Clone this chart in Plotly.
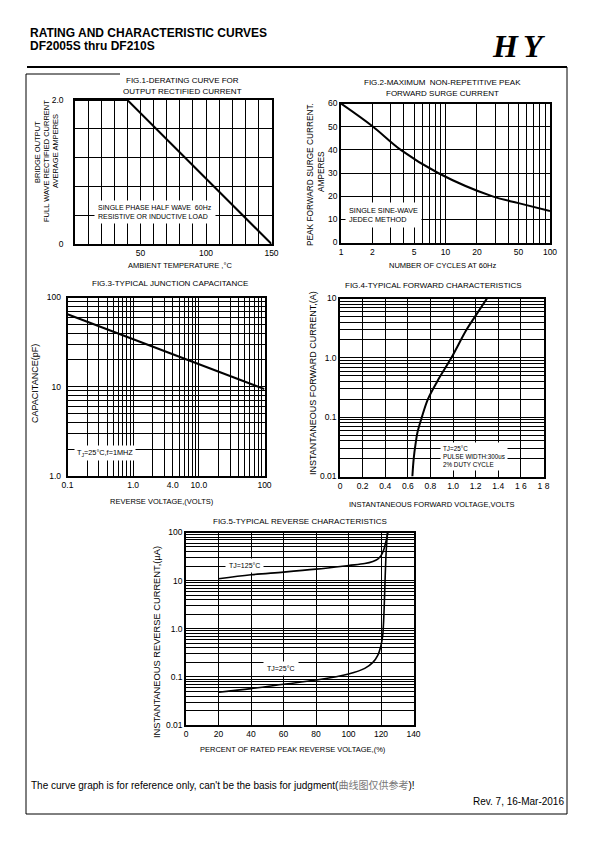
import plotly.graph_objects as go

# The page body has an 8px margin, so the figure is sized to the window minus it
OFF = 8
W, H = 595 - 2 * OFF, 842 - 2 * OFF
FONT = "Liberation Sans, Arial, sans-serif"

# ---------------- data ----------------
# Fig.1 derating curve
f1_temp = [0, 40, 150]
f1_amp = [2.0, 2.0, 0.0]
f1_xticks = list(range(0, 151, 10))
f1_xlabels = ["50" if v == 50 else "100" if v == 100 else "150" if v == 150 else "" for v in f1_xticks]
f1_yticks = [0, 0.4, 0.8, 1.2, 1.6, 2.0]
f1_ylabels = ["0", "", "", "", "", "2.0"]

# Fig.2 surge current
f2_cycles = [1, 2, 3.73, 8.5, 27.8, 50, 100]
f2_amps = [60, 50.2, 40, 30, 20, 17, 13.6]
f2_xticks = [1, 2, 3, 4, 5, 6, 7, 8, 9, 10, 20, 30, 40, 50, 60, 70, 80, 90, 100]
f2_xlabels = ["1", "2", "", "", "5", "", "", "", "", "10", "20", "", "", "50", "", "", "", "", "100"]
f2_yticks = [0, 10, 20, 30, 40, 50, 60]
f2_ylabels = ["0", "10", "20", "30", "40", "50", "60"]

# Fig.3 junction capacitance
f3_volt = [0.1, 1, 10, 100]
f3_cap = [65, 34, 18, 9.4]
f3_xticks = [m * 10 ** e for e in (-1, 0, 1) for m in range(1, 10)] + [100]
f3_xlabel_map = {0.1: "0.1", 1: "1.0", 4: "4.0", 10: "10.0", 100: "100"}
f3_yticks = [m * 10 ** e for e in (0, 1) for m in range(1, 10)] + [100]
f3_ylabel_map = {1: "1.0", 10: "10", 100: "100"}

# Fig.4 forward characteristics
f4_volt = [0.64, 0.652, 0.668, 0.685, 0.724, 0.777, 0.86, 0.985, 1.12, 1.21, 1.30]
f4_amp = [0.01, 0.02, 0.035, 0.055, 0.1, 0.2, 0.4, 1.0, 3.0, 5.5, 10.0]
f4_xticks = [0, 0.2, 0.4, 0.6, 0.8, 1.0, 1.2, 1.4, 1.6, 1.8]
f4_xlabels = ["0", "0.2", "0.4", "0.6", "0.8", "1.0", "1.2", "1.4", "1 6", "1 8"]
f4_yticks = [m * 10 ** e for e in (-2, -1, 0) for m in range(1, 10)] + [10]
f4_ylabel_map = {0.01: "0.01", 0.1: "0.1", 1: "1.0", 10: "10"}

# Fig.5 reverse characteristics
f5_pct_125 = [20, 40, 60, 80, 100, 110, 115, 118, 120, 121.5, 122.5, 123.5, 124.2]
f5_ua_125 = [10.9, 13.2, 15, 17.3, 20.6, 22.6, 25, 28, 33, 42, 55, 75, 100]
f5_pct_25 = [20, 40, 60, 80, 100, 110, 115, 118, 120, 121, 121.5, 122, 122.5, 123, 123.5, 124]
f5_ua_25 = [0.048, 0.057, 0.07, 0.086, 0.115, 0.15, 0.2, 0.28, 0.45, 0.7, 1.2, 3, 10, 30, 60, 100]
f5_xticks = [0, 20, 40, 60, 80, 100, 120, 140]
f5_xlabels = ["0", "20", "40", "60", "80", "100", "120", "140"]
f5_yticks = [m * 10 ** e for e in (-2, -1, 0, 1) for m in range(1, 10)] + [100]
f5_ylabel_map = {0.01: "0.01", 0.1: "0.1", 1: "1.0", 10: "10", 100: "100"}


def lab(vals, mp):
    out = []
    for v in vals:
        t = ""
        for k, s in mp.items():
            if abs(v - k) < 1e-9 * max(1, k):
                t = s
        out.append(t)
    return out


# ---------------- helpers (page pixel -> paper fraction) ----------------
def fx(p):
    return (p - OFF) / W


def fy(p):
    return 1 - (p - OFF) / H


def px_x(a, b):
    return [fx(a), fx(b)]


def px_y(top, bot):
    return [fy(bot), fy(top)]


def ax(domain, anchor, **kw):
    d = dict(domain=domain, anchor=anchor, showline=True, linecolor="black", linewidth=1.6,
             mirror=True, showgrid=True, gridcolor="black", gridwidth=0.9, zeroline=False,
             ticks="", tickfont=dict(family=FONT, size=8.5, color="black"), tickmode="array",
             fixedrange=True, automargin=False)
    d.update(kw)
    return d


fig = go.Figure()
line = dict(color="black", width=2)
fig.add_trace(go.Scatter(x=f1_temp, y=f1_amp, mode="lines", line=line, xaxis="x", yaxis="y"))
fig.add_trace(go.Scatter(x=f2_cycles, y=f2_amps, mode="lines", line=dict(line, shape="spline"), xaxis="x2", yaxis="y2"))
fig.add_trace(go.Scatter(x=f3_volt, y=f3_cap, mode="lines", line=line, xaxis="x3", yaxis="y3"))
fig.add_trace(go.Scatter(x=f4_volt, y=f4_amp, mode="lines", line=dict(line, shape="spline"), xaxis="x4", yaxis="y4"))
fig.add_trace(go.Scatter(x=f5_pct_125, y=f5_ua_125, mode="lines", line=dict(line, shape="spline", width=1.6), xaxis="x5", yaxis="y5"))
fig.add_trace(go.Scatter(x=f5_pct_25, y=f5_ua_25, mode="lines", line=dict(line, shape="spline", width=1.6), xaxis="x5", yaxis="y5"))

layout = dict(
    template="none",
    width=W, height=H, margin=dict(l=0, r=0, t=0, b=0, pad=0, autoexpand=False), showlegend=False,
    paper_bgcolor="white", plot_bgcolor="white",
    xaxis=ax(px_x(75, 271.5), "y", range=[0, 150], tickvals=f1_xticks, ticktext=f1_xlabels),
    yaxis=ax(px_y(100, 244), "x", range=[0, 2.0], tickvals=f1_yticks, ticktext=f1_ylabels, ticklabelstandoff=8),
    xaxis2=ax(px_x(341, 550), "y2", type="log", range=[0, 2], tickvals=f2_xticks, ticktext=f2_xlabels),
    yaxis2=ax(px_y(103.5, 242.5), "x2", range=[0, 60], tickvals=f2_yticks, ticktext=f2_ylabels),
    xaxis3=ax(px_x(67.5, 264.5), "y3", type="log", range=[-1, 2], tickvals=f3_xticks, ticktext=lab(f3_xticks, f3_xlabel_map)),
    yaxis3=ax(px_y(297.5, 476), "x3", type="log", range=[0, 2], tickvals=f3_yticks, ticktext=lab(f3_yticks, f3_ylabel_map), ticklabelstandoff=3),
    xaxis4=ax(px_x(340, 543.5), "y4", range=[0, 1.8], tickvals=f4_xticks, ticktext=f4_xlabels),
    yaxis4=ax(px_y(298.5, 476.5), "x4", type="log", range=[-2, 1], tickvals=f4_yticks, ticktext=lab(f4_yticks, f4_ylabel_map)),
    xaxis5=ax(px_x(186, 413.5), "y5", range=[0, 140], tickvals=f5_xticks, ticktext=f5_xlabels),
    yaxis5=ax(px_y(532.5, 725), "x5", type="log", range=[-2, 2], tickvals=f5_yticks, ticktext=lab(f5_yticks, f5_ylabel_map)),
)
fig.update_layout(**layout)

annots = []


def txt(x, y, s, size=7, angle=0, xanchor="center", bg=None, align="center", bold=False, color="black", family=FONT, pad=0):
    a = dict(x=fx(x), y=fy(y), xref="paper", yref="paper", text=s, showarrow=False,
             xanchor=xanchor, yanchor="middle", textangle=angle, align=align,
             font=dict(family=family, size=size, color=color, weight="bold" if bold else "normal"))
    if bg:
        a.update(bgcolor=bg, borderpad=pad)
    annots.append(a)


# header
txt(28, 33, "RATING AND CHARACTERISTIC CURVES", size=12, xanchor="left", bold=True)
txt(28, 46.5, "DF2005S thru DF210S", size=12, xanchor="left", bold=True)
txt(505, 46, "<b><i>H</i></b>", size=32, family="Liberation Serif, serif")
txt(534, 46, "<b><i>Y</i></b>", size=32, family="Liberation Serif, serif")

# Fig1 texts
txt(182, 80, "FIG.1-DERATING CURVE FOR", size=8)
txt(182, 91, "OUTPUT RECTIFIED CURRENT", size=8)
txt(37, 152, "BRIDGE OUTPUT", size=7.5, angle=-90)
txt(46, 161, "FULL WAVE RECTIFIED CURRENT", size=7.5, angle=-90)
txt(55, 151, "AVERAGE AMPERES", size=7.5, angle=-90)
txt(180, 266, "AMBIENT TEMPERATURE ,°C", size=7.5)
txt(94, 212, "SINGLE PHASE HALF WAVE  60Hz<br>RESISTIVE OR INDUCTIVE LOAD", size=7, bg="white", align="left", xanchor="left", pad=3)

# Fig2 texts
txt(442, 83, "FIG.2-MAXIMUM  NON-REPETITIVE PEAK", size=8)
txt(442, 94, "FORWARD SURGE CURRENT", size=8)
txt(310, 175, "PEAK FORWARD SURGE CURRENT.", size=8.3, angle=-90)
txt(321, 172, "AMPERES", size=8.3, angle=-90)
txt(442, 266, "NUMBER OF CYCLES AT 60Hz", size=7.5)
txt(345, 215, "SINGLE SINE-WAVE<br>JEDEC METHOD", size=7.3, bg="white", align="left", xanchor="left", pad=3)

# Fig3 texts
txt(170, 283, "FIG.3-TYPICAL JUNCTION CAPACITANCE", size=8)
txt(35, 384, "CAPACITANCE(pF)", size=9, angle=-90)
txt(162, 501, "REVERSE VOLTAGE,(VOLTS)", size=7.5)
txt(105, 453, "T<sub>J</sub>=25°C,f=1MHZ", size=7.3, bg="white", pad=2)

# Fig4 texts
txt(433, 285, "FIG.4-TYPICAL FORWARD CHARACTERISTICS", size=8)
txt(313, 383, "INSTANTANEOUS FORWARD CURRENT,(A)", size=9, angle=-90)
txt(432, 505, "INSTANTANEOUS FORWARD VOLTAGE,VOLTS", size=7.5)
txt(440, 456, "TJ=25°C<br>PULSE WIDTH:300us<br>2% DUTY CYCLE", size=6.3, bg="white", align="left", xanchor="left", pad=2)

# Fig5 texts
txt(300, 521, "FIG.5-TYPICAL REVERSE CHARACTERISTICS", size=8)
txt(157, 642, "INSTANTANEOUS REVERSE CURRENT,(µA)", size=9.3, angle=-90)
txt(293, 749, "PERCENT OF RATED PEAK REVERSE VOLTAGE,(%)", size=7.5)
txt(244, 565, "TJ=125°C", size=7, bg="white", pad=3)
txt(281, 668, "TJ=25°C", size=7, bg="white", pad=3)

# footer
txt(29, 785, "The curve graph is for reference only, can't be the basis for judgment(<span style='color:#777'>曲线图仅供参考</span>)!",
    size=10, xanchor="left", family="Liberation Sans, Noto Sans CJK SC, sans-serif")
txt(566, 801, "Rev. 7, 16-Mar-2016", size=10, xanchor="right")

fig.update_layout(annotations=annots)


def pline(x0, y0, x1, y1, w=1):
    return dict(type="line", xref="paper", yref="paper", x0=fx(x0), x1=fx(x1), y0=fy(y0), y1=fy(y1),
                line=dict(color="black", width=w))


shapes = [
    pline(27, 67, 567, 67, 2.2),
    pline(26, 74, 26, 814, 1),
    pline(567, 67, 567, 814, 1),
    pline(26, 814, 567, 814, 1),
    pline(26, 74, 120, 74, 1),
]
fig.update_layout(shapes=shapes)

fig.write_html("out.html")
